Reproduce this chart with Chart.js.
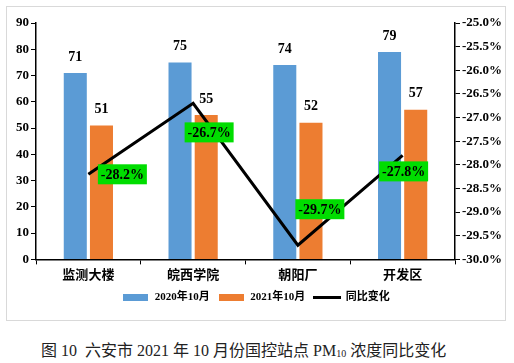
<!DOCTYPE html>
<html>
<head>
<meta charset="utf-8">
<script src="https://cdn.jsdelivr.net/npm/chart.js@4"></script>
<style>
  html, body { margin: 0; padding: 0; background: #fff; }
  body { width: 514px; height: 363px; position: relative; overflow: hidden; }
  .box { position: absolute; left: 6px; top: 6px; width: 498px; height: 313px; border: 1px solid #d9d9d9; }
  .box canvas { display: block; }
  .caption { position: absolute; left: 41px; top: 337px; white-space: nowrap;
    font-family: "Liberation Serif", "Noto Sans CJK SC", serif; font-size: 16px; color: #222; }
  .caption sub { font-size: 10px; vertical-align: -1px; }
</style>
</head>
<body>
<div class="box"><canvas id="chart" width="498" height="313"></canvas></div>
<div class="caption">图 10&nbsp; 六安市 2021 年 10 月份国控站点 PM<sub>10</sub> 浓度同比变化</div>
<script>
const sites = ['监测大楼', '皖西学院', '朝阳厂', '开发区'];
const pm2020 = [71, 75, 74, 79];
const pm2021 = [51, 55, 52, 57];
const yoyChange = [-28.2, -26.7, -29.7, -27.8];
const leftTicks = [0, 10, 20, 30, 40, 50, 60, 70, 80, 90];
const rightTicks = [-30, -29.5, -29, -28.5, -28, -27.5, -27, -26.5, -26, -25.5, -25];

// 标签偏移 (只是样式)
const changeLabelOffset = [[34, 0], [16, 29], [22, -36], [1, 16]];

const serif = '"Liberation Serif", "Noto Sans CJK SC", serif';

// 图例的小图标
function legendIcon(w, h, color) {
  const c = document.createElement('canvas');
  c.width = w; c.height = h;
  const g = c.getContext('2d');
  g.fillStyle = color;
  g.fillRect(0, 0, w, h);
  return c;
}

const labelPlugin = {
  id: 'valueLabels',
  afterDatasetsDraw(chart) {
    const ctx = chart.ctx;
    ctx.save();
    ctx.textAlign = 'center';
    ctx.textBaseline = 'middle';
    // 柱子上的数值
    [0, 1].forEach(di => {
      const meta = chart.getDatasetMeta(di);
      meta.data.forEach((bar, i) => {
        ctx.font = 'bold 14px ' + serif;
        ctx.fillStyle = '#000';
        ctx.fillText(chart.data.datasets[di].data[i], bar.x, bar.y - 16);
      });
    });
    // 同比变化的绿色标签
    const lineMeta = chart.getDatasetMeta(2);
    lineMeta.data.forEach((pt, i) => {
      const txt = yoyChange[i].toFixed(1) + '%';
      const cx = pt.x + changeLabelOffset[i][0];
      const cy = pt.y + changeLabelOffset[i][1];
      ctx.fillStyle = '#00dd00';
      ctx.fillRect(cx - 24.5, cy - 10, 49, 20);
      ctx.font = 'bold 14px ' + serif;
      ctx.fillStyle = '#000';
      ctx.fillText(txt, cx, cy + 1);
    });
    ctx.restore();
  }
};

const ctx = document.getElementById('chart').getContext('2d');
new Chart(ctx, {
  data: {
    labels: sites,
    datasets: [
      {
        type: 'bar', label: '2020年10月', data: pm2020, yAxisID: 'y',
        backgroundColor: '#5b9bd5', categoryPercentage: 0.5, barPercentage: 0.88, order: 2,
        pointStyle: legendIcon(25, 7, '#5b9bd5')
      },
      {
        type: 'bar', label: '2021年10月', data: pm2021, yAxisID: 'y',
        backgroundColor: '#ed7d31', categoryPercentage: 0.5, barPercentage: 0.88, order: 2,
        pointStyle: legendIcon(25, 7, '#ed7d31')
      },
      {
        type: 'line', label: '同比变化', data: yoyChange, yAxisID: 'y1',
        borderColor: '#000', backgroundColor: '#000', borderWidth: 3,
        pointRadius: 0, tension: 0, order: 1,
        pointStyle: legendIcon(28, 3, '#000')
      }
    ]
  },
  options: {
    responsive: false,
    animation: false,
    events: [],
    layout: { padding: { top: 16, right: 0, left: 0, bottom: 7 } },
    plugins: {
      tooltip: { enabled: false },
      legend: {
        position: 'bottom',
        labels: {
          font: { family: serif, size: 11, weight: 'bold' },
          color: '#000',
          usePointStyle: true,
          pointStyleWidth: 27,
          boxHeight: 7,
          padding: 8,
          sort: (a, b) => a.datasetIndex - b.datasetIndex
        }
      }
    },
    scales: {
      x: {
        grid: { display: true, drawOnChartArea: false, offset: true, color: '#000', tickLength: 5, tickColor: '#000' },
        border: { color: '#000', width: 1.5 },
        ticks: { color: '#000', font: { family: '"Noto Sans CJK SC", sans-serif', size: 13, weight: 'bold' }, padding: 2 }
      },
      y: {
        position: 'left',
        min: 0, max: 90,
        afterBuildTicks: s => { s.ticks = leftTicks.map(v => ({ value: v })); },
        afterFit: s => { s.width = 29; },
        grid: { display: true, drawOnChartArea: false, tickLength: 5, tickColor: '#000' },
        border: { color: '#000', width: 1.5 },
        ticks: { color: '#000', font: { family: serif, size: 13, weight: 'bold' }, padding: 2 }
      },
      y1: {
        position: 'right',
        min: -30, max: -25,
        afterBuildTicks: s => { s.ticks = rightTicks.map(v => ({ value: v })); },
        afterFit: s => { s.width = 50; },
        grid: { display: true, drawOnChartArea: false, tickLength: 5, tickColor: '#000' },
        border: { color: '#000', width: 1.5 },
        ticks: {
          color: '#000', font: { family: serif, size: 13, weight: 'bold' }, padding: 2,
          callback: v => v.toFixed(1) + '%'
        }
      }
    }
  },
  plugins: [labelPlugin]
});
</script>
</body>
</html>
